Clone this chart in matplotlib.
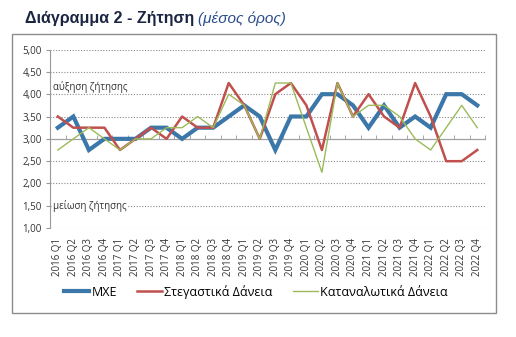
import matplotlib.pyplot as plt
from matplotlib.patches import Rectangle
from matplotlib.ticker import FixedLocator, NullFormatter

plt.rcParams['font.family'] = ['Open Sans', 'DejaVu Sans']

quarters = [f'{y} Q{q}' for y in range(2016, 2023) for q in range(1, 5)]

mxe = [3.25, 3.5, 2.75, 3.0, 3.0, 3.0, 3.25, 3.25,
       3.0, 3.25, 3.25, 3.5, 3.75, 3.5, 2.75, 3.5,
       3.5, 4.0, 4.0, 3.75, 3.25, 3.75, 3.25, 3.5,
       3.25, 4.0, 4.0, 3.75]
stegastika = [3.5, 3.25, 3.25, 3.25, 2.75, 3.0, 3.25, 3.0,
              3.5, 3.25, 3.25, 4.25, 3.75, 3.0, 4.0, 4.25,
              3.75, 2.75, 4.25, 3.5, 4.0, 3.5, 3.25, 4.25,
              3.5, 2.5, 2.5, 2.75]
katanalotika = [2.75, 3.0, 3.25, 3.0, 2.75, 3.0, 3.0, 3.25,
                3.25, 3.5, 3.25, 4.0, 3.75, 3.0, 4.25, 4.25,
                3.25, 2.25, 4.25, 3.5, 3.75, 3.75, 3.5, 3.0,
                2.75, 3.25, 3.75, 3.25]

fig = plt.figure(figsize=(5.16, 3.37), dpi=100)
ax = fig.add_axes([0.097, 0.323, 0.843, 0.530])

x = list(range(len(quarters)))
ax.plot(x, mxe, color='#3B77A8', lw=3.0, label='MXE', solid_joinstyle='miter', zorder=3)
ax.plot(x, stegastika, color='#C0504D', lw=1.8, label='Στεγαστικά Δάνεια', zorder=4)
ax.plot(x, katanalotika, color='#9BBB59', lw=1.0, label='Καταναλωτικά Δάνεια', zorder=5)

ax.set_xlim(-0.5, len(quarters) - 0.5)
ax.set_ylim(1.0, 5.0)
yt = [1.0 + 0.5 * i for i in range(9)]
ax.set_yticks(yt)
ax.set_yticklabels([f'{v:.2f}'.replace('.', ',') for v in yt], fontsize=7, color='#333333')
for v in yt:
    if v != 3.0:
        ax.axhline(v, color='#8a8a8a', lw=0.8, ls=(0, (1, 1.5)), zorder=0)
ax.tick_params(axis='y', length=3, color='#999999', pad=3)

ax.set_xticks(x)
ax.set_xticklabels(quarters, rotation=90, fontsize=7, color='#333333')
ax.tick_params(axis='x', length=0, pad=7)

for s in ['top', 'right', 'bottom']:
    ax.spines[s].set_visible(False)
ax.spines['left'].set_color('#999999')

# category axis crossing at 3,00
sec = ax.secondary_xaxis(0.5)
sec.set_xticks([])
sec.xaxis.set_minor_locator(FixedLocator([i - 0.5 for i in range(len(quarters) + 1)]))
sec.xaxis.set_minor_formatter(NullFormatter())
sec.tick_params(axis='x', which='minor', length=3, color='#999999', direction='out')
for s in sec.spines.values():
    s.set_color('#a0a0a0')
    s.set_linewidth(0.9)

ax.text(-0.3, 4.03, 'αύξηση ζήτησης', fontsize=7, color='#333333', va='bottom')
ax.text(-0.3, 1.5, 'μείωση ζήτησης', fontsize=7, color='#333333', va='center',
        bbox=dict(facecolor='white', edgecolor='none', pad=0.5))

fig.legend(loc='center', bbox_to_anchor=(0.496, 0.134), ncol=3, frameon=False,
           fontsize=9, handlelength=2.0, columnspacing=1.6, handletextpad=0.2)

fig.patches.append(Rectangle((0.023, 0.071), 0.938, 0.828, transform=fig.transFigure,
                             fill=False, edgecolor='#8c8c8c', lw=1.0))

t1 = fig.text(0.048, 0.945, 'Διάγραμμα 2 - Ζήτηση', fontsize=11.5, fontweight='bold',
              color='#1A2540', va='center', family=['Liberation Sans', 'DejaVu Sans'])
fig.canvas.draw()
bb = t1.get_window_extent().transformed(fig.transFigure.inverted())
fig.text(bb.x1 + 0.008, 0.945, '(μέσος όρος)', fontsize=11, style='italic',
         color='#2B4C8C', va='center', family=['Liberation Sans', 'DejaVu Sans'])

fig.savefig('out.png', dpi=100)
